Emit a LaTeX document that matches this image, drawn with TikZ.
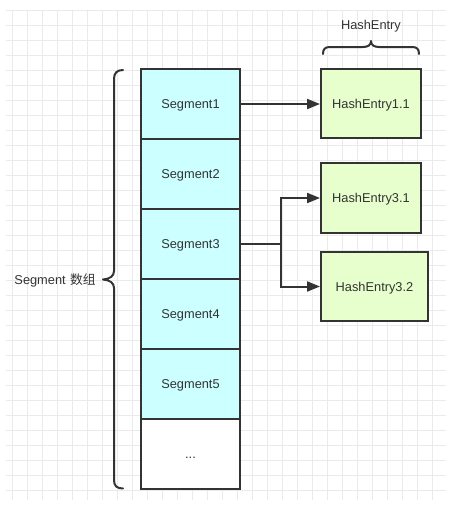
\documentclass[tikz,border=0pt]{standalone}
\usepackage{fontspec}
\setmainfont{Liberation Sans}
\newfontfamily\cjk{Noto Sans CJK SC}
\usetikzlibrary{arrows.meta}
\definecolor{ink}{HTML}{333333}
\definecolor{segfill}{HTML}{CCFFFF}
\definecolor{hefill}{HTML}{E6FFCC}
\definecolor{gridc}{HTML}{EAEAEA}
\begin{document}
\begin{tikzpicture}[x=1pt,y=-1pt,
  box/.style={draw=ink, line width=2pt, inner sep=0pt, text=ink, font=\fontsize{12.8}{15}\selectfont, text height=9.2pt, text depth=0pt},
  seg/.style={box, fill=segfill, minimum width=99pt, minimum height=70pt},
  he/.style={box, fill=hefill, minimum height=69pt},
  conn/.style={draw=ink, line width=2pt, -{Triangle[length=13pt,width=10pt]}},
  bracec/.style={draw=ink, line width=2pt, line cap=round, line join=round},
  lbl/.style={text=ink, inner sep=0pt, font=\fontsize{12.8}{15}\selectfont, text height=9.2pt, text depth=0pt}]
\useasboundingbox (0,0) rectangle (452,507);
\fill[white] (0,0) rectangle (452,507);
% grid
\foreach \x in {12.7,27.7,...,440} \draw[gridc, line width=0.8pt] (\x,10) -- (\x,500);
\foreach \y in {10.7,25.7,...,500} \draw[gridc, line width=0.8pt] (6,\y) -- (446,\y);
% segment array
\node[seg] (seg1) at (190.5,104) {Segment1};
\node[seg] (seg2) at (190.5,174) {Segment2};
\node[seg] (seg3) at (190.5,244) {Segment3};
\node[seg] (seg4) at (190.5,314) {Segment4};
\node[seg] (seg5) at (190.5,384) {Segment5};
\node[seg, fill=white] (seg6) at (190.5,454) {...};
% hash entries
\node[he, minimum width=100pt] (he11) at (371,103.5) {HashEntry1.1};
\node[he, minimum width=100pt, minimum height=70pt] (he31) at (371,198) {HashEntry3.1};
\node[he, minimum width=107pt] (he32) at (374.5,286.5) {HashEntry3.2};
% connectors
\draw[conn] (seg1.east) -- (seg1.east -| he11.west);
\coordinate (j) at (281,244);
\draw[conn] (seg3.east) -- (j) |- (he31.west);
\draw[conn] (j) |- (he32.west);
% big left brace
\draw[bracec] (123,70) .. controls (117,70) and (114,73) .. (114,79) -- (114,271)
  .. controls (114,276) and (110,279) .. (103,279.5)
  .. controls (110,280) and (114,283) .. (114,288) -- (114,480)
  .. controls (114,486) and (117,488.5) .. (123,488.5);
\node[lbl, anchor=east] (arrlbl) at (96,279.5) {Segment\hspace{4.5pt}{\cjk 数组}};
% top brace
\draw[bracec] (323,54) .. controls (323,49) and (325,47) .. (330,47) -- (363,47)
  .. controls (368,47) and (371,45) .. (371,41)
  .. controls (371,45) and (374,47) .. (379,47) -- (412,47)
  .. controls (417,47) and (419,49) .. (419,54);
\node[lbl] (helbl) at (371,25) {HashEntry};
\end{tikzpicture}
\end{document}
